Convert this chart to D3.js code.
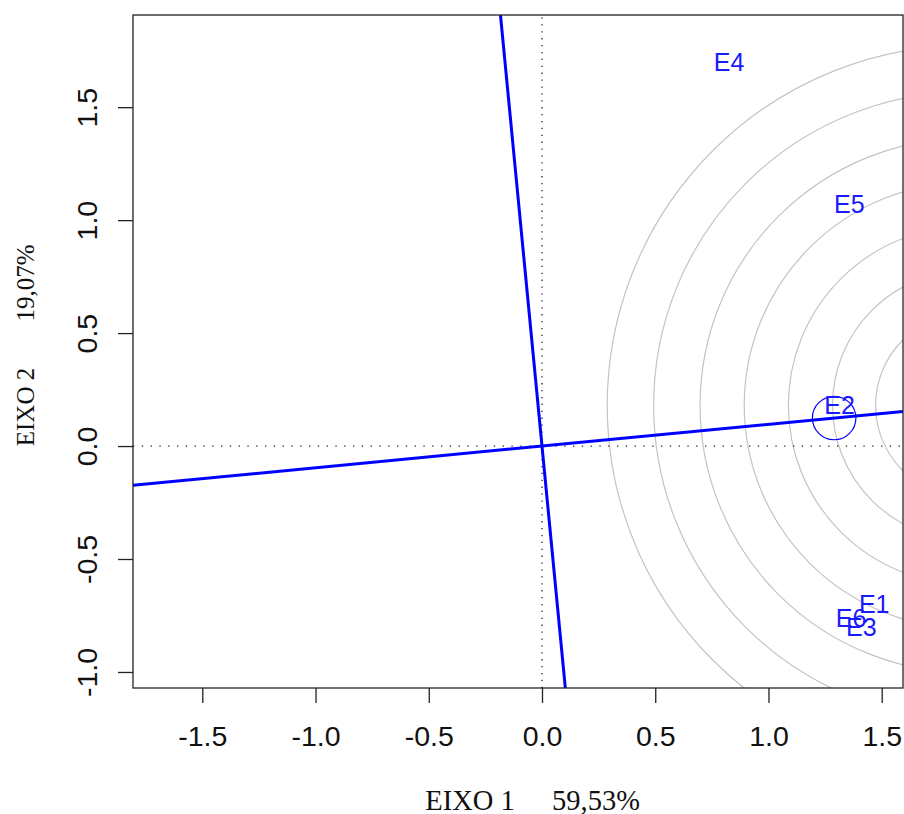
<!DOCTYPE html>
<html>
<head>
<meta charset="utf-8">
<script src="https://cdn.jsdelivr.net/npm/d3@7"></script>
<style>
  body { margin: 0; background: #fff; }
</style>
</head>
<body>
<svg width="904" height="814"></svg>
<script>
// environment scores (biplot coordinates)
const envNames = ['E1', 'E2', 'E3', 'E4', 'E5', 'E6'];
const envX = [1.467, 1.314, 1.41, 0.826, 1.357, 1.365];
const envY = [-0.70, 0.18, -0.80, 1.698, 1.073, -0.763];

// average environment marker and concentric rings
const avgEnv = [1.29, 0.124];
const avgEnvRadius = 0.096;
const ringCenter = [1.878, 0.18];
const ringRadii = [0.2, 0.405, 0.595, 0.79, 0.985, 1.18, 1.385, 1.59];

const xTicks = [-1.5, -1.0, -0.5, 0.0, 0.5, 1.0, 1.5];
const yTicks = [-1.0, -0.5, 0.0, 0.5, 1.0, 1.5];

const xTitleParts = ['EIXO 1', '59,53%'];
const yTitleParts = ['EIXO 2', '19,07%'];

const boxL = 133, boxR = 903, boxT = 15, boxB = 688;

const x = d3.scaleLinear().domain([-1.806, 1.594]).range([boxL, boxR]);
const y = d3.scaleLinear().domain([-1.071, 1.908]).range([boxB, boxT]);

const fmt = d => d3.format('.1f')(d).replace('\u2212', '-');

const svg = d3.select('svg');

svg.append('defs')
  .append('clipPath')
  .attr('id', 'plot-clip')
  .append('rect')
    .attr('x', boxL)
    .attr('y', boxT)
    .attr('width', boxR - boxL)
    .attr('height', boxB - boxT)
  ;

const plot = svg.append('g').attr('clip-path', 'url(#plot-clip)');

// rings
plot.append('g')
  .selectAll('circle')
  .data(ringRadii)
  .enter()
    .append('circle')
    .attr('cx', x(ringCenter[0]))
    .attr('cy', y(ringCenter[1]))
    .attr('r', d => x(d) - x(0))
    .attr('fill', 'none')
    .attr('stroke', '#c4c4c4')
    .attr('stroke-width', 1.2)
  ;

// dotted reference lines
plot.append('line')
  .attr('x1', x.range()[0]).attr('x2', x.range()[1])
  .attr('y1', y(0)).attr('y2', y(0))
  .attr('stroke', '#222')
  .attr('stroke-width', 1.3)
  .attr('stroke-dasharray', '1.3,7.5')
  ;
plot.append('line')
  .attr('x1', x(0)).attr('x2', x(0))
  .attr('y1', y.range()[0]).attr('y2', y.range()[1])
  .attr('stroke', '#222')
  .attr('stroke-width', 1.3)
  .attr('stroke-dasharray', '1.3,5.6')
  ;

// average environment axis and its perpendicular, through the origin
const slope = avgEnv[1] / avgEnv[0];
const xd = x.domain(), yd = y.domain();
plot.append('line')
  .attr('x1', x(xd[0])).attr('y1', y(xd[0] * slope))
  .attr('x2', x(xd[1])).attr('y2', y(xd[1] * slope))
  .attr('stroke', '#0000ff')
  .attr('stroke-width', 3)
  ;
plot.append('line')
  .attr('x1', x(-yd[0] * slope)).attr('y1', y(yd[0]))
  .attr('x2', x(-yd[1] * slope)).attr('y2', y(yd[1]))
  .attr('stroke', '#0000ff')
  .attr('stroke-width', 3)
  ;

// average environment marker
plot.append('circle')
  .attr('cx', x(avgEnv[0]))
  .attr('cy', y(avgEnv[1]))
  .attr('r', x(avgEnvRadius) - x(0))
  .attr('fill', 'none')
  .attr('stroke', '#0000ff')
  .attr('stroke-width', 1.2)
  ;

// environment labels
plot.append('g')
  .selectAll('text')
  .data(envNames)
  .enter()
    .append('text')
    .attr('x', (d, i) => x(envX[i]))
    .attr('y', (d, i) => y(envY[i]))
    .attr('text-anchor', 'middle')
    .attr('dy', '0.36em')
    .attr('font-family', 'Liberation Sans, Arial, sans-serif')
    .attr('font-size', 25)
    .attr('fill', '#1a1aff')
    .text(d => d)
  ;

// box
svg.append('rect')
  .attr('x', boxL)
  .attr('y', boxT)
  .attr('width', boxR - boxL)
  .attr('height', boxB - boxT)
  .attr('fill', 'none')
  .attr('stroke', '#222')
  .attr('stroke-width', 1.3)
  ;

// axes
const xAxis = svg.append('g')
  .attr('transform', `translate(0,${boxB})`)
  .call(d3.axisBottom(x).tickValues(xTicks).tickFormat(fmt).tickSize(15));
const yAxis = svg.append('g')
  .attr('transform', `translate(${boxL},0)`)
  .call(d3.axisLeft(y).tickValues(yTicks).tickFormat(fmt).tickSize(15));

[xAxis, yAxis].forEach(g => {
  g.select('.domain').remove();
  g.selectAll('line').attr('stroke', '#222').attr('stroke-width', 1.3);
  g.selectAll('text')
    .attr('x', null)
    .attr('y', null)
    .attr('dy', null)
    .attr('text-anchor', 'middle')
    .attr('dominant-baseline', 'central')
    .attr('font-family', 'Liberation Sans, Arial, sans-serif')
    .attr('font-size', 28.5)
    .attr('fill', '#111');
});

xAxis.selectAll('.tick text').attr('transform', 'translate(0,48)');
yAxis.selectAll('.tick text').attr('transform', 'translate(-46,0) rotate(-90)');

// axis titles
const serif = 'Liberation Serif, Times New Roman, serif';
svg.append('g')
  .selectAll('text')
  .data(xTitleParts)
  .enter()
    .append('text')
    .attr('x', (d, i) => i === 0 ? 470 : 596)
    .attr('y', 800)
    .attr('text-anchor', 'middle')
    .attr('dominant-baseline', 'central')
    .attr('font-family', serif)
    .attr('font-size', 28.5)
    .attr('fill', '#111')
    .text(d => d)
  ;
svg.append('g')
  .selectAll('text')
  .data(yTitleParts)
  .enter()
    .append('text')
    .attr('transform', (d, i) => `translate(25,${i === 0 ? 407 : 283}) rotate(-90)`)
    .attr('text-anchor', 'middle')
    .attr('dominant-baseline', 'central')
    .attr('font-family', serif)
    .attr('font-size', 25)
    .attr('fill', '#111')
    .text(d => d)
  ;
</script>
</body>
</html>
